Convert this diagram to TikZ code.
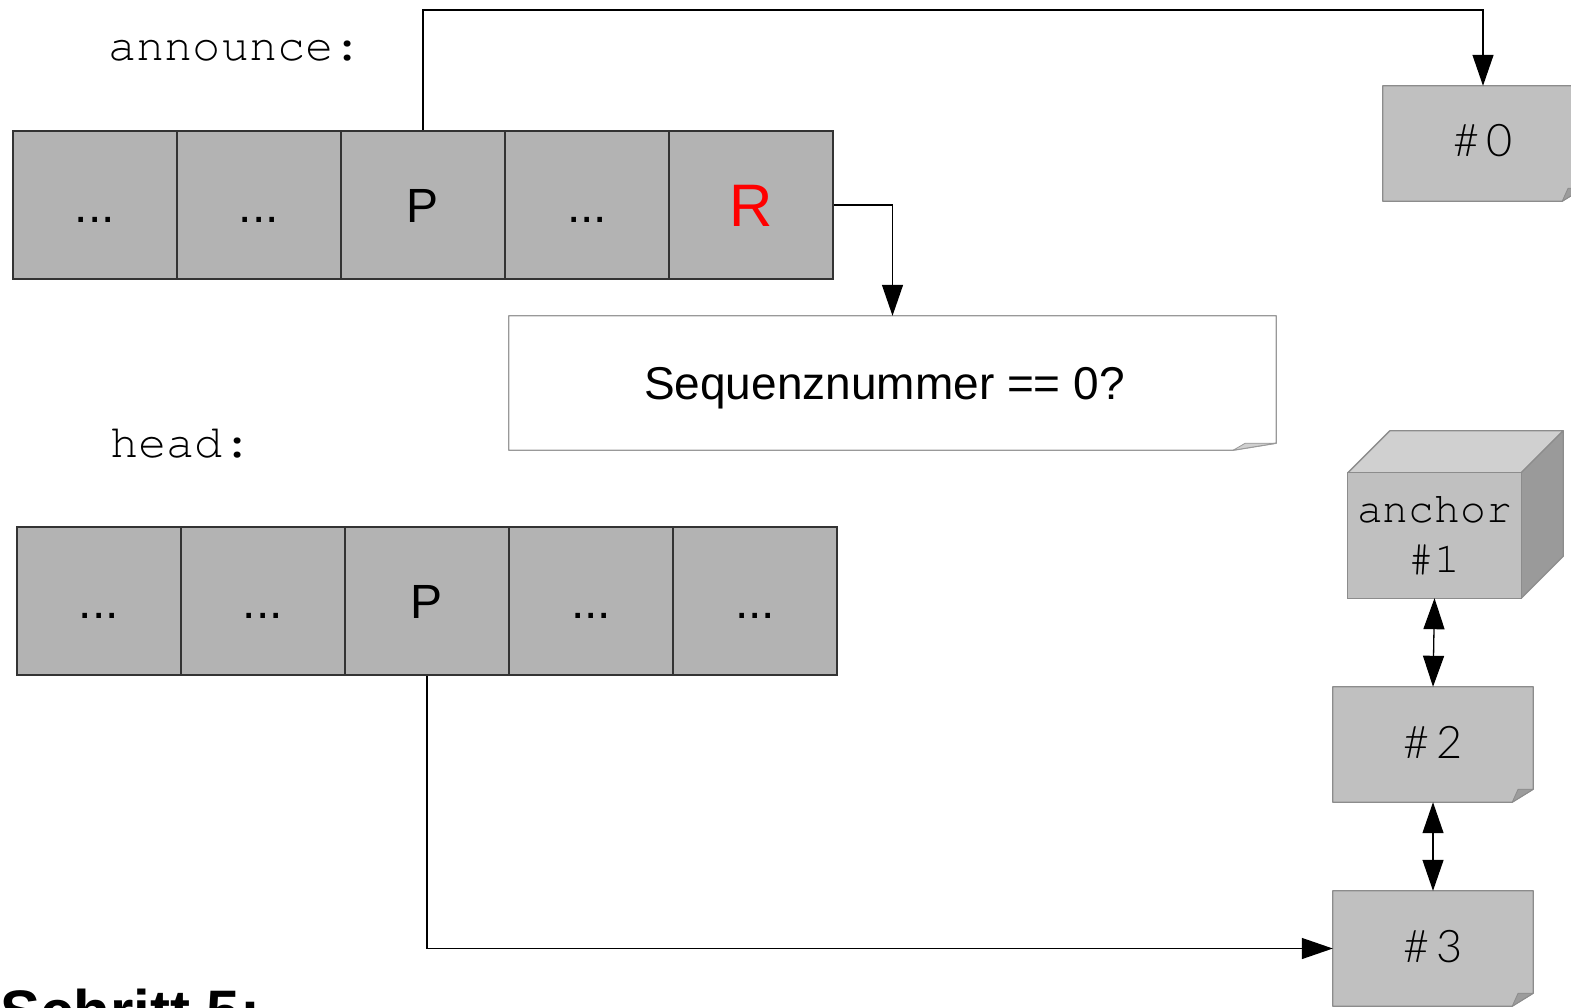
\documentclass[tikz,border=0pt]{standalone}
\usepackage{fontspec}
\setmainfont{Liberation Sans}
\newfontfamily\codefont{texgyrecursor-regular.otf}
\newfontfamily\lightfont{Lato Light}
\usetikzlibrary{arrows.meta,backgrounds,calc}

\definecolor{cellgray}{HTML}{B3B3B3}
\definecolor{cellborder}{HTML}{333333}
\definecolor{notegray}{HTML}{C0C0C0}
\definecolor{noteborder}{HTML}{8C8C8C}
\definecolor{flapdark}{HTML}{9C9C9C}
\definecolor{flaplight}{HTML}{D0D0D0}
\definecolor{cubetop}{HTML}{D0D0D0}
\definecolor{cubeside}{HTML}{9A9A9A}

\begin{document}
\begin{tikzpicture}[x=1pt,y=-1pt,
  cell/.style={draw=cellborder,line width=2.5pt,fill=cellgray,
    minimum width=164pt,minimum height=148pt,inner sep=0pt,
    font=\fontsize{48}{48}\selectfont,text height=35pt,text depth=0pt},
  link/.style={draw=black,line width=1.3pt,-{Triangle[width=21pt,length=31pt]}},
  both/.style={link,{Triangle[width=21pt,length=31pt]}-{Triangle[width=21pt,length=31pt]}},
  note/.style={minimum width=200pt,minimum height=115pt,inner sep=0pt,
    font=\lightfont\fontsize{45}{45}\selectfont},
  codelabel/.style={anchor=base west,inner sep=0pt,font=\codefont\fontsize{47}{47}\selectfont}
]
\useasboundingbox (0,0) rectangle (1571,1007);

% variable labels
\node[codelabel] (announce) at (108,60) {announce:};
\node[codelabel] (head) at (110,457) {head:};
\node[anchor=base west,inner sep=0pt,font=\bfseries\fontsize{60}{60}\selectfont] (step) at (0,1032) {Schritt 5:};

% announce array
\node[cell] (a1) at (95,205) {...};
\node[cell] (a2) at (259,205) {...};
\node[cell] (a3) at (423,205) {P};
\node[cell] (a4) at (587,205) {...};
\node[cell,text=red,font=\fontsize{60}{60}\selectfont,text height=43pt] (a5) at (751,205) {R};

% head array
\node[cell] (h1) at (99,601) {...};
\node[cell] (h2) at (263,601) {...};
\node[cell] (h3) at (427,601) {P};
\node[cell] (h4) at (591,601) {...};
\node[cell] (h5) at (755,601) {...};

% question note
\node[minimum width=767pt,minimum height=134pt,inner sep=0pt,
  font=\fontsize{46}{46}\selectfont,text height=33pt,text depth=0pt]
  (seq) at (892.5,383) {Sequenznummer == 0?\kern16pt};

% list nodes
\node[note] (n0) at (1483,143.5) {\raisebox{6pt}{\#\hspace{7pt}0}};
\node[align=center,minimum width=173pt,minimum height=125pt,inner sep=0pt,
  font=\codefont\fontsize{43}{50}\selectfont] (cube) at (1434.5,535.5) {anchor\\\#1};
\node[note] (n2) at (1433,744.5) {\raisebox{5pt}{\#\hspace{7pt}2}};
\node[note] (n3) at (1433,948.5) {\raisebox{5pt}{\#\hspace{7pt}3}};

% note outlines with folded corner, and the cube faces
\begin{scope}[on background layer]
  \fill[white] (0,0) rectangle (1571,1007);
  \foreach \n/\fc/\bc/\flc/\dx/\dy in {seq/white/black!40/flaplight/43/7,
      n0/notegray/noteborder/flapdark/21/13,
      n2/notegray/noteborder/flapdark/21/13,
      n3/notegray/noteborder/flapdark/21/13}{
    \filldraw[fill=\fc,draw=\bc,line width=1.3pt,line join=round]
      (\n.north west) -- (\n.north east) -- ($(\n.south east)+(0,-\dy)$)
      -- ($(\n.south east)+(-\dx,0)$) -- (\n.south west) -- cycle;
    \filldraw[fill=\flc,draw=\bc,line width=0.8pt,line join=round]
      ($(\n.south east)+(-\dx,0)$) -- ($(\n.south east)+(-0.72*\dx,-\dy)$)
      -- ($(\n.south east)+(0,-\dy)$) -- cycle;
  }
  \filldraw[fill=cubetop,draw=noteborder,line width=1.3pt,line join=round]
    (cube.north west) -- ($(cube.north west)+(42,-42)$)
    -- ($(cube.north east)+(42,-42)$) -- (cube.north east) -- cycle;
  \filldraw[fill=cubeside,draw=noteborder,line width=1.3pt,line join=round]
    (cube.north east) -- ($(cube.north east)+(42,-42)$)
    -- ($(cube.south east)+(42,-42)$) -- (cube.south east) -- cycle;
  \filldraw[fill=notegray,draw=noteborder,line width=1.3pt]
    (cube.north west) rectangle (cube.south east);
\end{scope}

% connectors
\draw[link] (a3.north) -- (a3.north |- 0,10) -| (n0.north);
\draw[link] (a5.east) -| (seq.north);
\draw[link] (h3.south) |- (n3.west);
\draw[both] (cube.south) -- (n2.north);
\draw[both] (n2.south) -- (n3.north);
\end{tikzpicture}
\end{document}
